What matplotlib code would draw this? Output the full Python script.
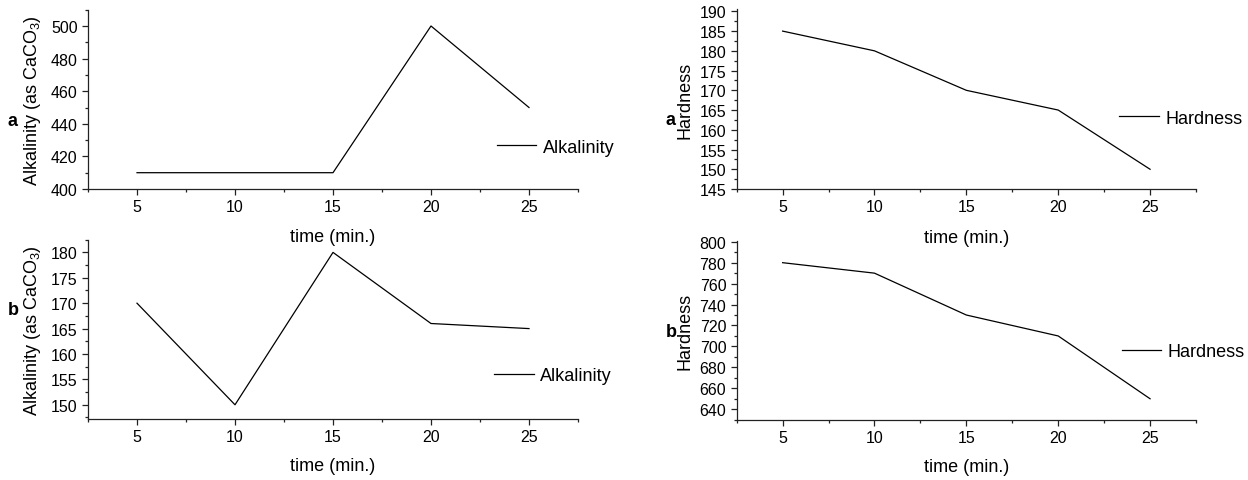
import matplotlib
matplotlib.use("Agg")
import matplotlib.pyplot as plt
from matplotlib.ticker import MultipleLocator

plt.rcParams['font.family'] = ['Liberation Sans', 'DejaVu Sans']
plt.rcParams['mathtext.default'] = 'regular'

time_min = [5, 10, 15, 20, 25]
alk_a = [410, 410, 410, 500, 450]
alk_b = [170, 150, 180, 166, 165]
hard_a = [185, 180, 170, 165, 150]
hard_b = [780, 770, 730, 710, 650]

W, H = 1248, 481
fig = plt.figure(figsize=(W / 100, H / 100), dpi=100)


def px_axes(x0, x1, ytop, ybot):
    return fig.add_axes([x0 / W, (H - ybot) / H, (x1 - x0) / W, (ybot - ytop) / H])


panels = [
    (88, 578, 10.7, 190, alk_a, (400, 510), 20, 10, 'Alkalinity (as CaCO$_{3}$)', 'Alkalinity',
     (496.7, 148.3), 43, 'a', (12.5, 126.5), 229),
    (88, 578, 240.7, 420, alk_b, (147.2, 182.5), 5, 2.5, 'Alkalinity (as CaCO$_{3}$)', 'Alkalinity',
     (494.3, 376.7), 43, 'b', (13, 315), 458),
    (736.7, 1196, 10, 190, hard_a, (145, 190.6), 5, 2.5, 'Hardness', 'Hardness',
     (1119.3, 119.3), 693.3, 'a', (671, 125), 230),
    (736.7, 1196, 241.7, 420.7, hard_b, (630, 801), 20, 10, 'Hardness', 'Hardness',
     (1121.7, 352.7), 693.3, 'b', (671, 336.7), 459),
]

for (x0, x1, yt, yb, ydata, ylim, maj, mnr, ylab, leglab, legpos, ylx, letter, lpos, xlt) in panels:
    ax = px_axes(x0, x1, yt, yb)
    ax.patch.set_visible(False)
    ax.plot(time_min, ydata, color='black', lw=0.9, label=leglab)
    ax.set_xlim(2.5, 27.5)
    ax.set_ylim(*ylim)
    ax.xaxis.set_major_locator(MultipleLocator(5))
    ax.xaxis.set_minor_locator(MultipleLocator(2.5))
    ax.yaxis.set_major_locator(MultipleLocator(maj))
    ax.yaxis.set_minor_locator(MultipleLocator(mnr))
    for s in ('top', 'right'):
        ax.spines[s].set_visible(False)
    for s in ('left', 'bottom'):
        ax.spines[s].set_linewidth(0.9)
        ax.spines[s].set_color('#222222')
    ax.tick_params(which='major', direction='out', length=4, width=0.9, labelsize=11.5, pad=3.5,
                   colors='#222222', labelcolor='black')
    ax.tick_params(which='minor', direction='out', length=2.3, width=0.9, colors='#222222')
    ax.set_ylabel(ylab, fontsize=13)
    ax.yaxis.set_label_coords((ylx - x0) / (x1 - x0), 0.5)
    ax.set_xlabel('time (min.)', fontsize=13, va='top')
    ax.xaxis.set_label_coords(0.5, -(xlt - yb) / (yb - yt))
    lx = (legpos[0] - x0) / (x1 - x0)
    ly = (yb - legpos[1]) / (yb - yt)
    ax.legend(loc='center left', bbox_to_anchor=(lx, ly), frameon=False, fontsize=13,
              handlelength=2.2, handletextpad=0.35, borderpad=0, borderaxespad=0)
    fig.text(lpos[0] / W, 1 - lpos[1] / H, letter, fontsize=13, fontweight='bold',
             ha='center', va='baseline')

fig.savefig('out.png', dpi=100)
